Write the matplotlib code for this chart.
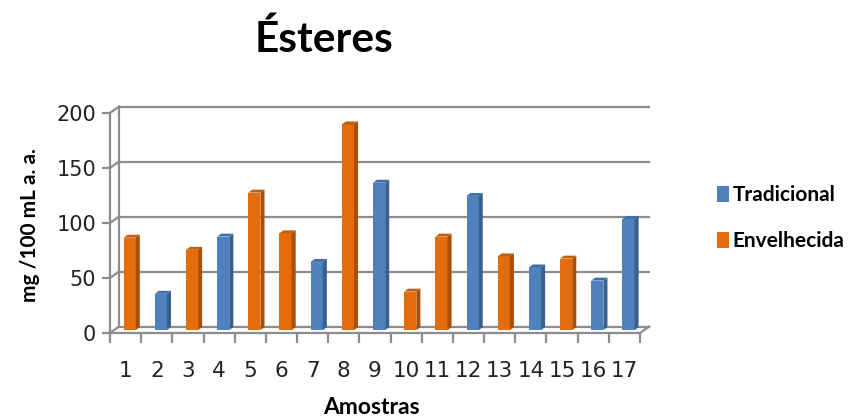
import matplotlib
matplotlib.use("Agg")
import matplotlib.pyplot as plt
from matplotlib.patches import Polygon, Patch

plt.rcParams['font.family'] = ['Lato', 'DejaVu Sans']

# Ester content per sample (mg / 100 mL anhydrous alcohol)
samples = [str(i) for i in range(1, 18)]
values = [84, 33, 73, 85, 125, 88, 62, 187, 134, 35, 85, 122, 67, 57, 65, 45, 101]
groups = ['Envelhecida', 'Tradicional', 'Envelhecida', 'Tradicional', 'Envelhecida',
          'Envelhecida', 'Tradicional', 'Envelhecida', 'Tradicional', 'Envelhecida',
          'Envelhecida', 'Tradicional', 'Envelhecida', 'Tradicional', 'Envelhecida',
          'Tradicional', 'Tradicional']
series_names = ['Tradicional', 'Envelhecida']
y_ticks = [0, 50, 100, 150, 200]

front_colors = {'Tradicional': '#4f81bd', 'Envelhecida': '#e46c0a'}
side_colors = {'Tradicional': '#37608f', 'Envelhecida': '#a94f08'}
top_colors = {'Tradicional': '#3f6ea6', 'Envelhecida': '#c45c08'}
grid_color = '#8c8c8c'
tick_font = ['Liberation Sans Narrow', 'DejaVu Sans']

fig = plt.figure(figsize=(8.56, 4.17), dpi=100)
ax = fig.add_axes([110 / 856, (417 - 333) / 417, 530 / 856, 220 / 417])

n = len(samples)
x = list(range(1, n + 1))
ax.set_xlim(0.5, n + 0.5)
ax.set_ylim(0, 200)

# depth offset of the back wall, in data units
DX = 0.29
DY = 5.9
d1, d2 = 0.45, 0.9
bw = 0.39

# back wall gridlines
for v in y_ticks[1:]:
    ax.plot([0.5 + DX, n + 0.5 + DX], [v + DY, v + DY], color=grid_color, lw=1.6,
            clip_on=False, zorder=1)
# floor back edge and side wall
ax.plot([0.5 + DX, n + 0.5 + DX], [DY, DY], color=grid_color, lw=1.6, clip_on=False, zorder=1)
ax.plot([0.5 + DX, 0.5 + DX], [DY, 200 + DY], color=grid_color, lw=1.6, clip_on=False, zorder=1)
for v in y_ticks:
    ax.plot([0.5, 0.5 + DX], [v, v + DY], color=grid_color, lw=1.6, clip_on=False, zorder=1)
ax.plot([n + 0.5, n + 0.5 + DX], [0, DY], color=grid_color, lw=1.6, clip_on=False, zorder=1)

# bars: front faces through ax.bar, side and top faces as polygons
for xi, v, g in zip(x, values, groups):
    ax.bar(xi + d1 * DX, v, width=bw, bottom=d1 * DY, color=front_colors[g],
           zorder=3, linewidth=0)
    left = xi + d1 * DX - bw / 2
    right = xi + d1 * DX + bw / 2
    base = d1 * DY
    top = v + d1 * DY
    ddx = (d2 - d1) * DX
    ddy = (d2 - d1) * DY
    ax.add_patch(Polygon([(right, base), (right, top), (right + ddx, top + ddy),
                          (right + ddx, base + ddy)], closed=True,
                         facecolor=side_colors[g], edgecolor='none', zorder=3,
                         clip_on=False))
    ax.add_patch(Polygon([(left, top), (right, top), (right + ddx, top + ddy),
                          (left + ddx, top + ddy)], closed=True,
                         facecolor=top_colors[g], edgecolor='none', zorder=3,
                         clip_on=False))

# axes styling
for s in ['top', 'right']:
    ax.spines[s].set_visible(False)
for s in ['left', 'bottom']:
    ax.spines[s].set_color(grid_color)
    ax.spines[s].set_linewidth(1.6)
ax.set_yticks(y_ticks)
ax.set_yticklabels([str(t) for t in y_ticks], fontsize=15, family=tick_font, color='#222222')
ax.tick_params(axis='y', length=6, width=1.6, color=grid_color, pad=4)
ax.set_xticks([i + 0.5 for i in range(0, n + 1)])
ax.set_xticklabels([''] * (n + 1))
ax.set_xticks(x, minor=True)
ax.set_xticklabels(samples, minor=True, fontsize=15.5, family=tick_font, color='#222222')
ax.tick_params(axis='x', which='major', length=7, width=1.6, color=grid_color)
ax.tick_params(axis='x', which='minor', length=0, pad=20)
ax.set_facecolor('none')

fig.text(30 / 856, 1 - 225 / 417, 'mg /100 mL a. a.', rotation=90, ha='center',
         va='center', fontsize=15, fontweight='bold')
fig.text(371 / 856, 1 - 407 / 417, 'Amostras', ha='center', va='center',
         fontsize=16.5, fontweight='bold')
fig.text(324 / 856, 1 - 52 / 417, 'Ésteres', ha='center', va='baseline',
         fontsize=30.5, fontweight='bold')

handles = [Patch(facecolor=front_colors[s], edgecolor='none') for s in series_names]
fig.legend(handles, series_names, loc='center left', bbox_to_anchor=(698 / 856, 1 - 218 / 417),
           frameon=False, handlelength=0.6, handleheight=0.8, handletextpad=0.15,
           labelspacing=1.25, prop={'weight': 'bold', 'size': 15})

fig.savefig('out.png', dpi=100)
